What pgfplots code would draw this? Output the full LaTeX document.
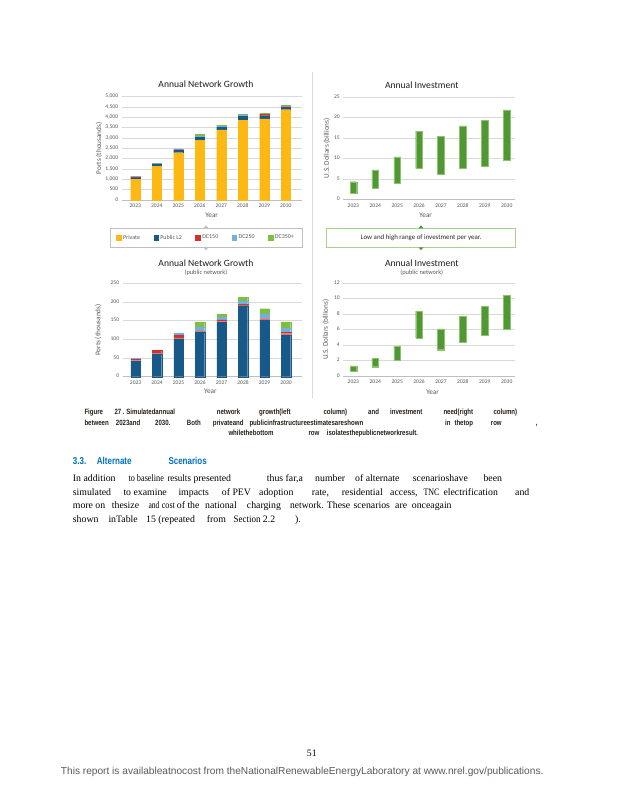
\documentclass[border=0pt]{standalone}
\usepackage{fontspec}
\setmainfont{Liberation Serif}
\newfontfamily\chartfont{Carlito}
\newfontfamily\capfont[FakeStretch=0.8]{Liberation Sans}
\newfontfamily\footfont{Liberation Sans}
\usepackage{pgfplots}
\usepackage{pgfplotstable}
\pgfplotsset{compat=1.18}

\definecolor{cPriv}{RGB}{253,184,19}
\definecolor{cL2}{RGB}{24,89,137}
\definecolor{cPink}{RGB}{232,128,118}
\definecolor{cDC150}{RGB}{210,48,44}
\definecolor{cDC250}{RGB}{112,177,226}
\definecolor{cDC350}{RGB}{128,190,64}
\definecolor{cInv}{RGB}{80,152,52}
\definecolor{cInvEdge}{RGB}{140,196,110}
\definecolor{cTick}{RGB}{89,89,89}
\definecolor{cTitle}{RGB}{30,30,30}
\definecolor{cGrid}{RGB}{217,217,217}
\definecolor{cAxis}{RGB}{191,191,191}
\definecolor{cBox}{RGB}{191,191,191}
\definecolor{cBoxG}{RGB}{169,209,142}
\definecolor{cHead}{RGB}{0,112,192}
\definecolor{cCap}{RGB}{40,32,24}
\definecolor{cFoot}{RGB}{90,90,90}

% all ports, thousands
\pgfplotstableread{
x priv l2 pink dc150 dc250 dc350
0 1010 55 0 25 60 0
1 1640 100 0 10 30 0
2 2290 110 10 30 30 0
3 2900 130 0 10 60 80
4 3400 110 0 10 40 60
5 3870 170 0 15 70 20
6 3930 150 0 60 10 40
7 4370 110 50 30 0 15
}\netall

% public ports, thousands
\pgfplotstableread{
x l2 pink dc150 dc250 dc350
0 42 2 3 3 0
1 61 2 7 2 0
2 101 3 8 5 0
3 120 2 1.5 9 14.5
4 146 3 3 7 8
5 190 2 2 9 10
6 152 4 1 11 14
7 112 4 3 10 18
}\netpub

% investment range, billions
\pgfplotstableread{
x lo hi
0 1.5 4.3
1 2.8 7.2
2 4.0 10.4
3 7.5 16.7
4 6.2 15.5
5 7.5 18.0
6 8.2 19.4
7 9.5 21.9
}\invall

\pgfplotstableread{
x lo hi
0 0.6 1.3
1 1.2 2.3
2 2.0 3.8
3 4.9 8.4
4 3.4 6.1
5 4.4 7.7
6 5.3 9.0
7 6.1 10.4
}\invpub

\pgfplotsset{
  panel/.style={
    scale only axis, anchor=south west, clip=false,
    axis x line*=bottom, axis y line*=left,
    x axis line style={-, draw=cAxis, line width=0.6pt},
    y axis line style={draw=none},
    major tick length=0pt,
    ymajorgrids, grid style={draw=cGrid, line width=0.5pt},
    xtick={0,...,7}, xticklabels={2023,2024,2025,2026,2027,2028,2029,2030},
    scaled y ticks=false,
    typeset ticklabels with strut,
    tick label style={font=\chartfont\fontsize{5.6}{6}\selectfont, text=cTick},
    xticklabel style={anchor=north},
    yticklabel style={/pgf/number format/assume math mode=true, /pgf/number format/1000 sep={,}},
    every axis title shift=0pt,
    title style={font=\chartfont\fontsize{9.6}{11}\selectfont, text=cTitle, anchor=center},
    every axis y label/.style={rotate=90, anchor=center, font=\chartfont\fontsize{7.2}{8}\selectfont, text=cTick},
    every axis x label/.style={anchor=center, font=\chartfont\fontsize{7.2}{8}\selectfont, text=cTick},
    ybar stacked,
  },
  seg/.style={fill=#1, draw=#1, line width=0.1pt},
}
\tikzset{sub/.style={font=\chartfont\fontsize{6.4}{7}\selectfont, text=cTick}}

\newlength\natw
% squeeze a word into at most #1 pt, in the current font
\newcommand\fitw[2]{\settowidth\natw{#2}%
  \pgfmathsetmacro\sx{min(1,#1/\natw)}\scalebox{\sx}[1]{#2}}
\newcommand\tw[3]{\node[anchor=base west,inner sep=0pt] at (#1,#2) {#3};}

\begin{document}
\begin{tikzpicture}
\path[use as bounding box, fill=white] (0,0) rectangle (618pt,800pt);

% top left: all ports
\begin{axis}[panel, at={(121.7pt,600pt)}, width=180pt, height=103.3pt,
  xmin=-0.63, xmax=7.74, ymin=0, ymax=5000, ytick={0,500,...,5000},
  bar width=9.3pt,
  title={Annual Network Growth}, title style={at={(axis description cs:0.468,1.123)}},
  ylabel={Ports (thousands)}, ylabel style={at={(axis description cs:-0.126,0.5)}},
  xlabel={Year}, xlabel style={at={(axis description cs:0.5,-0.145)}},
  legend columns=5,
  legend image code/.code={\fill[#1] (0pt,-2.35pt) rectangle (4.7pt,2.35pt);},
  legend style={at={(axis description cs:0.469,-0.366)}, anchor=center,
    draw=cBox, line width=0.6pt, inner xsep=6pt, inner ysep=5pt,
    font=\chartfont\fontsize{6}{7}\selectfont, text=cTick,
    /tikz/every even column/.append style={column sep=11.5pt}},
]
\addplot[seg=cPriv] table[x=x, y=priv]{\netall};
\addplot[seg=cL2] table[x=x, y=l2]{\netall};
\addplot[seg=cPink, forget plot] table[x=x, y=pink]{\netall};
\addplot[seg=cDC150] table[x=x, y=dc150]{\netall};
\addplot[seg=cDC250] table[x=x, y=dc250]{\netall};
\addplot[seg=cDC350] table[x=x, y=dc350]{\netall};
\legend{Private, Public L2, DC150, DC250, DC350+}
\end{axis}

% top right: investment
\begin{axis}[panel, at={(343.3pt,600.7pt)}, width=171.7pt, height=102pt,
  xmin=-0.46, xmax=7.38, ymin=0, ymax=25, ytick={0,5,...,25},
  bar width=6.7pt,
  title={Annual Investment}, title style={at={(axis description cs:0.457,1.12)}},
  ylabel={U.S. Dollars (billions)}, ylabel style={at={(axis description cs:-0.097,0.5)}},
  xlabel={Year}, xlabel style={at={(axis description cs:0.48,-0.154)}},
]
\addplot[draw=none, fill=none] table[x=x, y=lo]{\invall};
\addplot[fill=cInv, draw=cInvEdge, line width=0.4pt] table[x=x, y expr=\thisrow{hi}-\thisrow{lo}]{\invall};
\end{axis}

% bottom left: public ports
\begin{axis}[panel, at={(122.7pt,423.3pt)}, width=179pt, height=93.4pt,
  xmin=-0.6, xmax=7.73, ymin=0, ymax=250, ytick={0,50,...,250},
  bar width=9.3pt,
  title={Annual Network Growth}, title style={at={(axis description cs:0.465,1.214)}},
  ylabel={Ports (thousands)}, ylabel style={at={(axis description cs:-0.136,0.5)}},
  xlabel={Year}, xlabel style={at={(axis description cs:0.49,-0.16)}},
]
\addplot[seg=cL2] table[x=x, y=l2]{\netpub};
\addplot[seg=cPink] table[x=x, y=pink]{\netpub};
\addplot[seg=cDC150] table[x=x, y=dc150]{\netpub};
\addplot[seg=cDC250] table[x=x, y=dc250]{\netpub};
\addplot[seg=cDC350] table[x=x, y=dc350]{\netpub};
\node[sub] at (axis description cs:0.465,1.113) {(public network)};
\end{axis}

% bottom right: public investment
\begin{axis}[panel, at={(343.3pt,424pt)}, width=171.7pt, height=92.7pt,
  xmin=-0.46, xmax=7.38, ymin=0, ymax=12, ytick={0,2,...,12},
  bar width=6.7pt,
  title={Annual Investment}, title style={at={(axis description cs:0.457,1.216)}},
  ylabel={U.S. Dollars (billions)}, ylabel style={at={(axis description cs:-0.102,0.5)}},
  xlabel={Year}, xlabel style={at={(axis description cs:0.52,-0.17)}},
]
\addplot[draw=none, fill=none] table[x=x, y=lo]{\invpub};
\addplot[fill=cInv, draw=cInvEdge, line width=0.4pt] table[x=x, y expr=\thisrow{hi}-\thisrow{lo}]{\invpub};
\node[sub] at (axis description cs:0.457,1.114) {(public network)};
\end{axis}

\begin{scope}[x=1pt, y=1pt, yshift=800pt, yscale=-1]
% column divider and legend handles
\draw[cGrid, line width=0.7pt] (312,72) -- (312,398);
\fill[cAxis] (203.5,228.3) -- (206,225.3) -- (208.5,228.3) -- cycle;
\fill[cAxis] (203.5,247.3) -- (206,250.3) -- (208.5,247.3) -- cycle;
\draw[cBoxG, line width=0.7pt] (326.7,228.3) rectangle (515.7,247.3);
\fill[cInv] (418.5,228.3) -- (421,225.3) -- (423.5,228.3) -- cycle;
\fill[cInv] (418.5,247.3) -- (421,250.3) -- (423.5,247.3) -- cycle;
\node[font=\chartfont\fontsize{6.9}{7.5}\selectfont, text=black!85] at (421,237.8) {Low and high range of investment per year.};

% caption
\begin{scope}[every node/.style={font=\capfont\bfseries\fontsize{7.6}{8}\selectfont, text=cCap}]
\tw{84.3}{414.5}{Figure}
\tw{114.3}{414.5}{27}
\tw{122.3}{414.5}{. Simulatedannual}
\tw{216.7}{414.5}{network}
\tw{259}{414.5}{growth(left}
\tw{323.3}{414.5}{column)}
\tw{368}{414.5}{and}
\tw{390}{414.5}{investment}
\tw{443.3}{414.5}{need(right}
\tw{493.3}{414.5}{column)}
\tw{84.3}{425.5}{between}
\tw{115.7}{425.5}{2023and}
\tw{155}{425.5}{2030.}
\tw{186.7}{425.5}{Both}
\tw{212.7}{425.5}{privateand}
\tw{249.3}{425.5}{publicinfrastructureestimatesareshown}
\tw{445}{425.5}{in}
\tw{454.3}{425.5}{thetop}
\tw{490.7}{425.5}{row}
\tw{535.7}{425.5}{,}
\tw{228.3}{436}{whilethebottom}
\tw{308.3}{436}{row}
\tw{326.7}{436}{isolatesthepublicnetworkresult.}
\end{scope}

% heading
\begin{scope}[every node/.style={font=\capfont\bfseries\fontsize{10}{12}\selectfont, text=cHead}]
\tw{72.7}{464.3}{3.3.}
\tw{96.7}{464.3}{Alternate}
\tw{168.3}{464.3}{Scenarios}
\end{scope}

% body text
\begin{scope}[every node/.style={font=\fontsize{9.8}{12}\selectfont, text=black}]
\tw{72.7}{481.5}{In addition}
\tw{128.3}{481.5}{\fitw{35.5}{to baseline}}
\tw{167.3}{481.5}{\fitw{23.5}{results}}
\tw{193.3}{481.5}{presented}
\tw{266.7}{481.5}{thus far,a}
\tw{315}{481.5}{number}
\tw{355}{481.5}{of alternate}
\tw{412.7}{481.5}{scenarioshave}
\tw{483.3}{481.5}{been}
\tw{72.7}{495.3}{simulated}
\tw{123.3}{495.3}{to examine}
\tw{178.3}{495.3}{impacts}
\tw{221.7}{495.3}{of PEV}
\tw{259}{495.3}{adoption}
\tw{311.7}{495.3}{rate,}
\tw{341.7}{495.3}{residential}
\tw{390}{495.3}{access,}
\tw{423.3}{495.3}{\fitw{16}{TNC}}
\tw{443.3}{495.3}{electrification}
\tw{515}{495.3}{and}
\tw{72.7}{509}{more on}
\tw{111.7}{509}{thesize}
\tw{148.3}{509}{\fitw{11}{and}}
\tw{161.7}{509}{\fitw{13}{cost}}
\tw{176.7}{509}{of the}
\tw{205}{509}{national}
\tw{246.7}{509}{charging}
\tw{290}{509}{\fitw{33.5}{network.}}
\tw{326.7}{509}{These}
\tw{353.3}{509}{scenarios}
\tw{395}{509}{are}
\tw{411.7}{509}{onceagain}
\tw{72.7}{523}{shown}
\tw{108.3}{523}{inTable}
\tw{146}{523}{15 (repeated}
\tw{206.7}{523}{from}
\tw{233.3}{523}{\fitw{27}{Section}}
\tw{262.7}{523}{2.2}
\tw{295}{523}{).}
\tw{306.7}{756.6}{51}
\end{scope}

\node[anchor=base west, inner sep=0pt, font=\footfont\fontsize{9.3}{11}\selectfont, text=cFoot] at (60.7,775) {\resizebox{482.6pt}{!}{This report is availableatnocost from theNationalRenewableEnergyLaboratory at www.nrel.gov/publications.}};
\end{scope}
\end{tikzpicture}
\end{document}
